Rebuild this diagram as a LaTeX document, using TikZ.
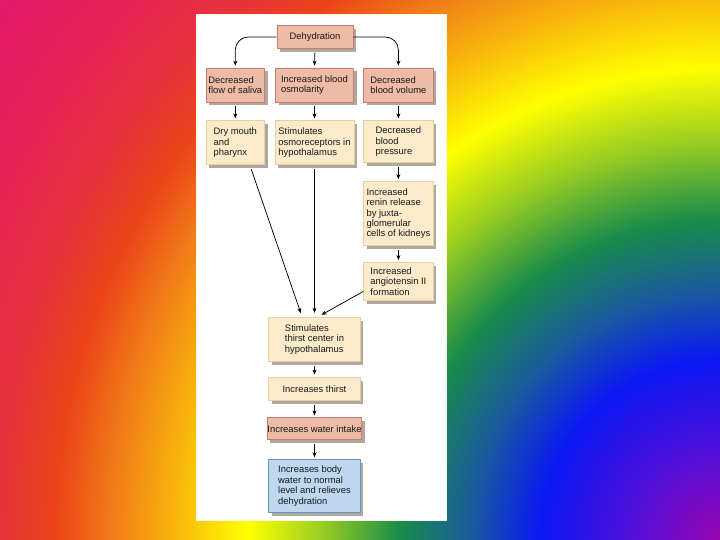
\documentclass[tikz,border=0pt]{standalone}
\usepackage{fontspec}
\setmainfont{Liberation Sans}
\usetikzlibrary{positioning,arrows.meta,shadows}

\definecolor{salmonfill}{HTML}{EDBBA6}
\definecolor{salmonedge}{HTML}{C4806C}
\definecolor{creamfill}{HTML}{FBEBCB}
\definecolor{creamedge}{HTML}{E6CFA0}
\definecolor{bluefill}{HTML}{BFD7EF}
\definecolor{blueedge}{HTML}{6893C6}
\definecolor{shadowgray}{HTML}{B0A89F}
\definecolor{paneledge}{HTML}{FBF7E2}
\definecolor{bgpurple}{HTML}{9A06B2}
\definecolor{bgviolet}{HTML}{5010DA}
\definecolor{bgblue}{HTML}{0A18F4}
\definecolor{bgteal}{HTML}{1A5C9C}
\definecolor{bggreen}{HTML}{1A8C4A}
\definecolor{bglime}{HTML}{96CC22}
\definecolor{bgyellow}{HTML}{FFFF00}
\definecolor{bgamber}{HTML}{F8B40C}
\definecolor{bgorange}{HTML}{F07818}
\definecolor{bgred}{HTML}{EC4418}
\definecolor{bgrose}{HTML}{E8323C}
\definecolor{bgcerise}{HTML}{E62256}
\definecolor{bgpink}{HTML}{E4196C}

\pgfdeclareradialshading{rainbowbg}{\pgfpoint{0bp}{0bp}}{%
  color(0bp)=(bgpurple); color(90bp)=(bgviolet); color(180bp)=(bgblue);
  color(250bp)=(bgteal); color(320bp)=(bggreen); color(395bp)=(bglime);
  color(470bp)=(bgyellow); color(545bp)=(bgamber); color(610bp)=(bgorange);
  color(662bp)=(bgred); color(720bp)=(bgrose); color(800bp)=(bgcerise);
  color(900bp)=(bgpink); color(930bp)=(bgpink)}

\begin{document}
\begin{tikzpicture}[x=1pt,y=1pt,node distance=18pt,
      box/.style={rectangle,draw,line width=0.8pt,inner sep=0.6pt,align=left,text=black!90,
        font=\fontsize{9.4}{10.4}\selectfont,
        drop shadow={shadow xshift=3pt,shadow yshift=-3.5pt,fill=shadowgray,opacity=1}},
      warm/.style={box,fill=salmonfill,draw=salmonedge},
      pale/.style={box,fill=creamfill,draw=creamedge},
      cool/.style={box,fill=bluefill,draw=blueedge},
      arr/.style={->,>={Stealth[length=5pt,width=4pt]},line width=0.75pt,shorten >=2pt},
      link/.style={arr,shorten <=4pt}]
      \useasboundingbox (0,0) rectangle (720,-540);
      \begin{scope}
        \clip (0,0) rectangle (720,-540);
        \node[inner sep=0pt] (bg) at (720,-540) {\pgfuseshading{rainbowbg}};
      \end{scope}
      \fill[white,draw=paneledge,line width=1pt] (196,-15) rectangle (446,-520);

      \node[warm,minimum width=76pt,minimum height=22.4pt,align=center] (dehyd) at (315,-37) {Dehydration};
      \node[warm,minimum width=78pt,minimum height=34pt] (osm) at (314.5,-85) {Increased blood\\osmolarity};
      \node[warm,minimum width=58.8pt,minimum height=34pt,left=10pt of osm] (sal) {Decreased\\flow of saliva};
      \node[warm,minimum width=69.8pt,minimum height=34pt,right=9.2pt of osm] (vol) {Decreased\\blood volume};
      \node[pale,minimum width=58.8pt,minimum height=43.6pt,below=of sal] (dry) {Dry mouth\\and\\pharynx};
      \node[pale,minimum width=79pt,minimum height=43.6pt,below=of osm] (rec) {Stimulates\\osmoreceptors in\\hypothalamus};
      \node[pale,minimum width=69.8pt,minimum height=42pt,below=of vol] (pres) {Decreased\\blood\\pressure};
      \node[pale,minimum width=69.8pt,minimum height=64pt,below=of pres] (renin) {Increased\\renin release\\by juxta-\\glomerular\\cells of kidneys};
      \node[pale,minimum width=69.8pt,minimum height=38pt,below=16pt of renin] (angio) {Increased\\angiotensin II\\formation};
      \node[pale,minimum width=91.8pt,minimum height=44pt,below=152pt of rec] (center) {Stimulates\\thirst center in\\hypothalamus};
      \node[pale,minimum width=91.8pt,minimum height=23.5pt,below=15pt of center,align=center] (thirst) {Increases thirst};
      \node[warm,minimum width=91.8pt,minimum height=22pt,inner xsep=0pt,below=16.5pt of thirst,align=center] (intake) {Increases water intake};
      \node[cool,minimum width=91.8pt,minimum height=53pt,below=19pt of intake] (relief) {Increases body\\water to normal\\level and relieves\\dehydration};

      \draw[arr,rounded corners=13pt] (dehyd.west) -| (sal.north);
      \draw[arr,rounded corners=13pt] (dehyd.east) -| (vol.north);
      \draw[link] (dehyd.south) -- (osm.north);
      \draw[link] (sal.south) -- (dry.north);
      \draw[link] (osm.south) -- (rec.north);
      \draw[link] (vol.south) -- (pres.north);
      \draw[link] (pres.south) -- (renin.north);
      \draw[link] (renin.south) -- (angio.north);
      \draw[arr,shorten <=4.5pt,shorten >=4pt] (dry.-57) -- (center.119);
      \draw[arr,shorten <=4pt,shorten >=4pt] (rec.south) -- (center.north);
      \draw[arr,shorten >=4pt] (angio.196) -- (center.81);
      \draw[link] (center.south) -- (thirst.north);
      \draw[link] (thirst.south) -- (intake.north);
      \draw[link] (intake.south) -- (relief.north);
    \end{tikzpicture}
\end{document}
